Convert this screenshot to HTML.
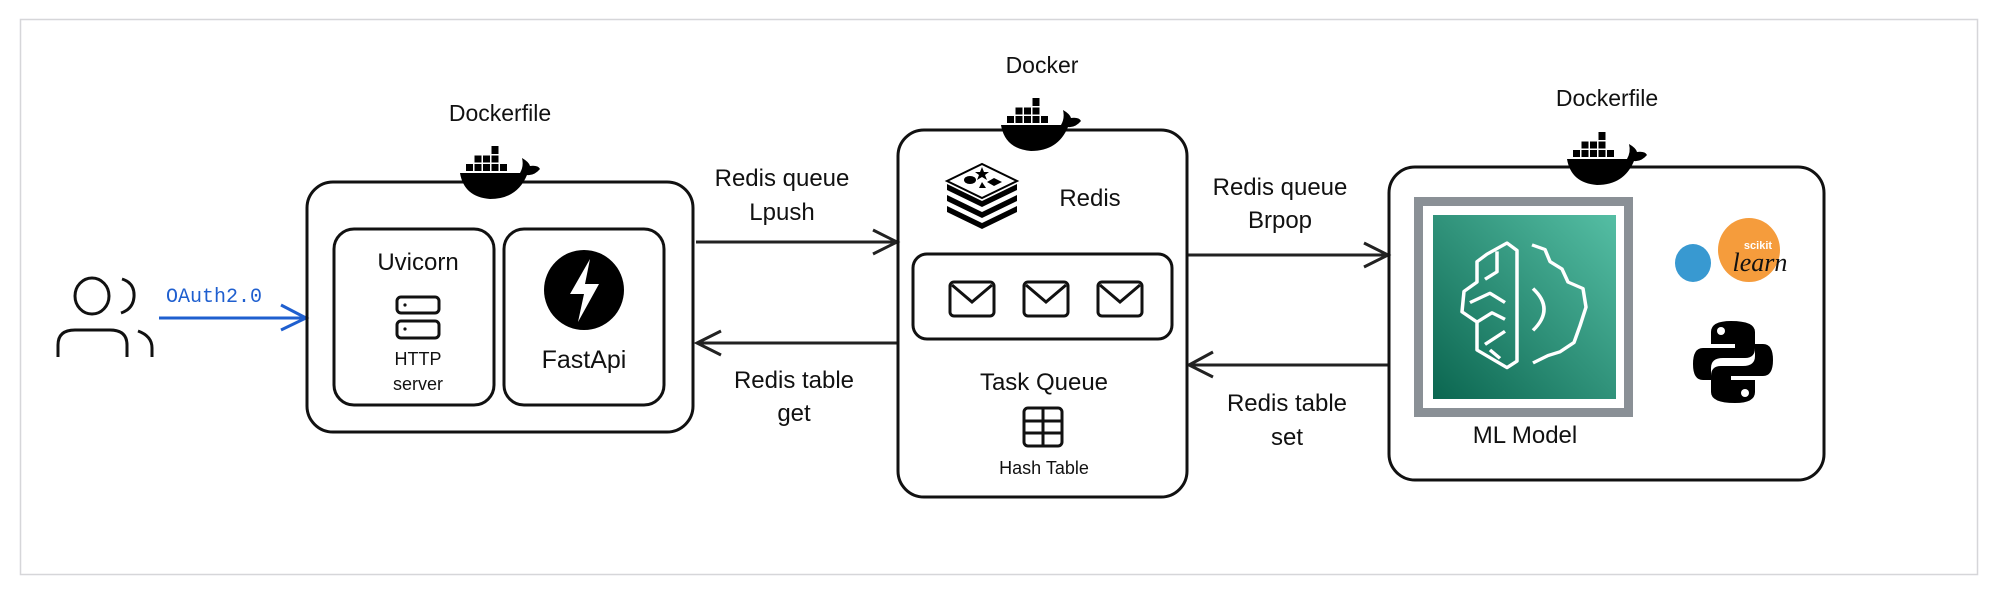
<!DOCTYPE html>
<html><head><meta charset="utf-8"><style>
html,body{margin:0;padding:0;background:#fff;width:2000px;height:596px;overflow:hidden}
svg{display:block}
text{font-family:"Liberation Sans",sans-serif;fill:#111}
</style></head><body>
<svg width="2000" height="596" viewBox="0 0 2000 596" xmlns="http://www.w3.org/2000/svg">
<defs>
<g id="whale">
<rect x="31.5" y="4" width="7" height="8" fill="#000"/>
<rect x="14.5" y="13.5" width="7" height="7" fill="#000"/><rect x="23" y="13.5" width="7" height="7" fill="#000"/><rect x="31.5" y="13.5" width="7" height="7" fill="#000"/>
<rect x="6" y="22" width="7" height="7" fill="#000"/><rect x="14.5" y="22" width="7" height="7" fill="#000"/><rect x="23" y="22" width="7" height="7" fill="#000"/><rect x="31.5" y="22" width="7" height="7" fill="#000"/><rect x="40" y="22" width="7" height="7" fill="#000"/>
<path d="M0,31 L60,31 Q64,24 62,16 Q69,20 70,24 Q78,23 80,27 Q74,34 67,33 Q57,57 30,57 Q4,55 0,31 Z" fill="#000"/>
</g>
<linearGradient id="teal" x1="0" y1="1" x2="1" y2="0">
<stop offset="0" stop-color="#0b6650"/><stop offset="1" stop-color="#55bea4"/>
</linearGradient>
<g id="env"><rect x="0" y="0" width="44" height="34" rx="4" fill="none" stroke="#111" stroke-width="3"/><path d="M2,3 L22,20 L42,3" fill="none" stroke="#111" stroke-width="3"/></g>
</defs>

<rect x="20.5" y="19.5" width="1957" height="555" fill="none" stroke="#d6d6d9" stroke-width="1.5"/>

<!-- person -->
<g fill="none" stroke="#111" stroke-width="3">
<ellipse cx="92" cy="296" rx="17" ry="18"/>
<path d="M58,357 L58,345 Q58,330 75,330 L110,330 Q127,330 127,345 L127,357"/>
<path d="M122,279 Q135,283 134,297 Q133,309 121,313"/>
<path d="M138,331 Q152,336 152,348 L152,357"/>
</g>
<text x="166" y="302" font-size="20" style="fill:#1f5fcf;font-family:'Liberation Mono',monospace">OAuth2.0</text>
<g stroke="#1f5fcf" stroke-width="3" fill="none"><path d="M159,318 L305,318"/><path d="M281,305 L306,318 L281,330"/></g>

<!-- left box -->
<rect x="307" y="182" width="386" height="250" rx="26" fill="none" stroke="#111" stroke-width="3"/>
<rect x="334" y="229" width="160" height="176" rx="20" fill="none" stroke="#111" stroke-width="3"/>
<rect x="504" y="229" width="160" height="176" rx="20" fill="none" stroke="#111" stroke-width="3"/>
<use href="#whale" transform="translate(460,142)"/>
<text x="500" y="121" font-size="23" text-anchor="middle">Dockerfile</text>
<text x="418" y="270" font-size="24" text-anchor="middle">Uvicorn</text>
<rect x="397" y="297" width="42" height="16" rx="4" fill="none" stroke="#111" stroke-width="3"/>
<rect x="397" y="321" width="42" height="17" rx="4" fill="none" stroke="#111" stroke-width="3"/>
<circle cx="405" cy="305" r="1.6" fill="#111"/><circle cx="405" cy="329" r="1.6" fill="#111"/>
<text x="418" y="365" font-size="18" text-anchor="middle">HTTP</text>
<text x="418" y="390" font-size="18" text-anchor="middle">server</text>
<ellipse cx="584" cy="290" rx="40" ry="40" fill="#000"/>
<path d="M590,259 L570,294 L584,294 L578,322 L599,284 L585,284 Z" fill="#fff"/>
<text x="584" y="368" font-size="25" text-anchor="middle">FastApi</text>

<!-- arrows -->
<g stroke="#222" stroke-width="3" fill="none">
<path d="M696,242 L897,242"/><path d="M873,230 L897,242 L873,254"/>
<path d="M897,343 L697,343"/><path d="M721,331 L697,343 L721,355"/>
<path d="M1187,255 L1388,255"/><path d="M1364,243 L1388,255 L1364,267"/>
<path d="M1388,365 L1189,365"/><path d="M1213,352 L1189,365 L1213,377"/>
</g>
<text x="782" y="186" font-size="24" text-anchor="middle">Redis queue</text>
<text x="782" y="220" font-size="24" text-anchor="middle">Lpush</text>
<text x="794" y="388" font-size="24" text-anchor="middle">Redis table</text>
<text x="794" y="421" font-size="24" text-anchor="middle">get</text>
<text x="1280" y="195" font-size="24" text-anchor="middle">Redis queue</text>
<text x="1280" y="228" font-size="24" text-anchor="middle">Brpop</text>
<text x="1287" y="411" font-size="24" text-anchor="middle">Redis table</text>
<text x="1287" y="445" font-size="24" text-anchor="middle">set</text>

<!-- middle box -->
<rect x="898" y="130" width="289" height="367" rx="26" fill="none" stroke="#111" stroke-width="3"/>
<use href="#whale" transform="translate(1001,94)"/>
<text x="1042" y="73" font-size="23" text-anchor="middle">Docker</text>
<g transform="translate(982,200)">
<path d="M-35,-5 L0,12 L35,-5 L35,1 L0,18 L-35,1 Z" fill="#000"/>
<path d="M-35,6 L0,23 L35,6 L35,12 L0,29 L-35,12 Z" fill="#000"/>
<path d="M-35,-16 L0,1 L35,-16 L35,-10 L0,7 L-35,-10 Z" fill="#000"/>
<path d="M-35,-19 L0,-36 L35,-19 L0,-2 Z" fill="#fff" stroke="#000" stroke-width="2"/>
<ellipse cx="-12" cy="-20" rx="6" ry="4" fill="#000"/>
<path d="M0,-33 L2,-28 L7,-28 L3,-25 L5,-20 L0,-23 L-5,-20 L-3,-25 L-7,-28 L-2,-28Z" fill="#000"/>
<path d="M12,-22 L20,-18 L12,-14 L5,-18Z" fill="#000"/>
<path d="M-3,-12 L4,-12 L0,-18Z" fill="#000"/>
</g>
<text x="1090" y="206" font-size="24" text-anchor="middle">Redis</text>
<rect x="913" y="254" width="259" height="85" rx="14" fill="none" stroke="#111" stroke-width="3"/>
<use href="#env" x="950" y="282"/><use href="#env" x="1024" y="282"/><use href="#env" x="1098" y="282"/>
<text x="1044" y="390" font-size="24" text-anchor="middle">Task Queue</text>
<g fill="none" stroke="#111" stroke-width="3">
<rect x="1024" y="408" width="38" height="38" rx="4"/><path d="M1043,408 L1043,446 M1024,421 L1062,421 M1024,433 L1062,433"/>
</g>
<text x="1044" y="474" font-size="18" text-anchor="middle">Hash Table</text>

<!-- right box -->
<rect x="1389" y="167" width="435" height="313" rx="26" fill="none" stroke="#111" stroke-width="3"/>
<use href="#whale" transform="translate(1567,128)"/>
<text x="1607" y="106" font-size="23" text-anchor="middle">Dockerfile</text>
<rect x="1418.5" y="201.5" width="210" height="211" fill="none" stroke="#8a9096" stroke-width="9"/>
<rect x="1433" y="215" width="183" height="184" fill="url(#teal)"/>
<g fill="none" stroke="#fff" stroke-width="3.5" stroke-linejoin="round" transform="translate(1462,243) scale(1,0.93) translate(-1462,-281)">
<path d="M1507,281 L1487,293 L1477,301 L1477,323 L1464,333 L1462,355 L1477,366 L1477,396 L1507,415 L1517,408 L1517,289 Z"/>
<path d="M1497,290 L1497,312 L1485,320 M1470,345 L1490,335 L1505,345 M1477,366 L1492,356 L1505,363 M1485,390 L1505,376 M1500,405 L1490,396"/>
<path d="M1532,283 L1545,288 L1550,301 L1562,309 L1568,323 L1583,330 L1586,350 L1580,370 L1574,388 L1560,398 L1548,402 L1533,410"/>
<path d="M1533,330 Q1555,352 1533,375"/>
</g>
<text x="1525" y="443" font-size="24" text-anchor="middle">ML Model</text>
<ellipse cx="1693" cy="263" rx="18" ry="19" fill="#3899d1"/>
<ellipse cx="1749" cy="250" rx="31" ry="32" fill="#f59c3c"/>
<text x="1758" y="249" font-size="11" font-weight="bold" text-anchor="middle" style="fill:#fff">scikit</text>
<text x="1760" y="271" font-size="26" font-style="italic" text-anchor="middle" style="font-family:'Liberation Serif',serif;fill:#111">learn</text>
<g transform="translate(1733,362)">
<path d="M-2,-41 Q-22,-41 -22,-30 L-22,-18 L2,-18 L2,-14 L-30,-14 Q-40,-14 -40,2 Q-40,18 -30,18 L-22,18 L-22,6 Q-22,-4 -10,-4 L12,-4 Q22,-4 22,-14 L22,-30 Q22,-41 -2,-41 Z" fill="#000"/>
<path d="M2,41 Q22,41 22,30 L22,18 L-2,18 L-2,14 L30,14 Q40,14 40,-2 Q40,-18 30,-18 L22,-18 L22,-6 Q22,4 10,4 L-12,4 Q-22,4 -22,14 L-22,30 Q-22,41 2,41 Z" fill="#000"/>
<circle cx="-12" cy="-31" r="4" fill="#fff"/><circle cx="12" cy="31" r="4" fill="#fff"/>
</g>
</svg>
</body></html>
